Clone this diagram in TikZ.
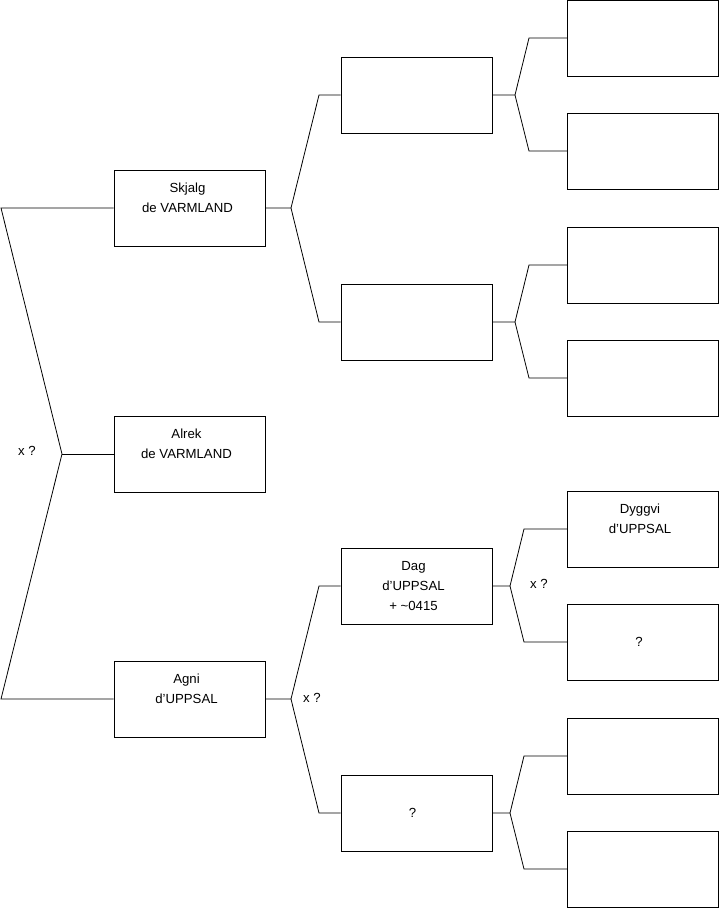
\documentclass[tikz,border=0pt]{standalone}
\usepackage{fontspec}
\setmainfont{Liberation Sans}
\newcommand{\sq}{{\char"0027}}
\begin{document}
\begin{tikzpicture}[x=1pt,y=-1pt,
  box/.style={draw=black,line width=0.8pt,minimum width=151pt,minimum height=76pt,inner sep=0pt},
  txt/.style={inner sep=0pt,align=center,font=\fontsize{13.2}{20}\selectfont},
  conn/.style={draw=black,line width=0.8pt},
  lbl/.style={font=\fontsize{13.2}{20}\selectfont,inner sep=0pt}]
\useasboundingbox (0,0) rectangle (719,908);
% column 1
\node[box] (s) at (189.5,208) {};
\node[box] (a) at (189.5,454) {};
\node[box] (g) at (189.5,699) {};
\node[txt] (st) at ([xshift=-2pt]s.center) {Skjalg\\de VARMLAND\\~};
\node[txt] (at) at ([xshift=-3pt]a.center) {Alrek\\de VARMLAND\\~};
\node[txt] (gt) at ([xshift=-3pt]g.center) {Agni\\d\sq UPPSAL\\~};
% column 2
\node[box] (c21) at (416.5,95) {};
\node[box] (c22) at (416.5,322) {};
\node[box] (d) at (416.5,586) {};
\node[box] (q2) at (416.5,813) {};
\node[txt] (dt) at ([xshift=-3pt]d.center) {Dag\\d\sq UPPSAL\\+ \textasciitilde0415};
\node[txt] (q2t) at ([xshift=-4pt]q2.center) {?};
% column 3
\node[box] (c31) at (643,38) {};
\node[box] (c32) at (643,151) {};
\node[box] (c33) at (643,265) {};
\node[box] (c34) at (643,378) {};
\node[box] (dy) at (643,529) {};
\node[box] (q3) at (643,642) {};
\node[box] (c37) at (643,756) {};
\node[box] (c38) at (643,869) {};
\node[txt] (dyt) at ([xshift=-3pt]dy.center) {Dyggvi\\d\sq UPPSAL\\~};
\node[txt] (q3t) at ([xshift=-4pt]q3.center) {?};
% left fork
\coordinate (l0) at (1,208);
\coordinate (lm) at (62,454);
\coordinate (l1) at (1,699);
\draw[conn] (s.west) -- (l0) -- (lm) -- (l1) -- (g.west);
\draw[conn] (lm) -- (a.west);
\node[lbl] (x1) at (27,451) {x ?};
% Skjalg fork
\coordinate (sv) at (291,208);
\coordinate (su) at (319,95);
\coordinate (sd) at (319,322);
\draw[conn] (s.east) -- (sv) -- (su) -- (c21.west);
\draw[conn] (sv) -- (sd) -- (c22.west);
% Agni fork
\coordinate (gv) at (291,699);
\coordinate (gu) at (319,586);
\coordinate (gd) at (319,813);
\draw[conn] (g.east) -- (gv) -- (gu) -- (d.west);
\draw[conn] (gv) -- (gd) -- (q2.west);
\node[lbl] (x2) at (312,698) {x ?};
% c21 fork
\coordinate (av) at (515,95);
\coordinate (au) at (529,38);
\coordinate (ad) at (529,151);
\draw[conn] (c21.east) -- (av) -- (au) -- (c31.west);
\draw[conn] (av) -- (ad) -- (c32.west);
% c22 fork
\coordinate (bv) at (515,322);
\coordinate (bu) at (529,265);
\coordinate (bd) at (529,378);
\draw[conn] (c22.east) -- (bv) -- (bu) -- (c33.west);
\draw[conn] (bv) -- (bd) -- (c34.west);
% Dag fork
\coordinate (dv) at (510,586);
\coordinate (du) at (524,529);
\coordinate (dd) at (524,642);
\draw[conn] (d.east) -- (dv) -- (du) -- (dy.west);
\draw[conn] (dv) -- (dd) -- (q3.west);
\node[lbl] (x3) at (539,584) {x ?};
% q2 fork
\coordinate (ev) at (510,813);
\coordinate (eu) at (524,756);
\coordinate (ed) at (524,869);
\draw[conn] (q2.east) -- (ev) -- (eu) -- (c37.west);
\draw[conn] (ev) -- (ed) -- (c38.west);
\end{tikzpicture}
\end{document}
